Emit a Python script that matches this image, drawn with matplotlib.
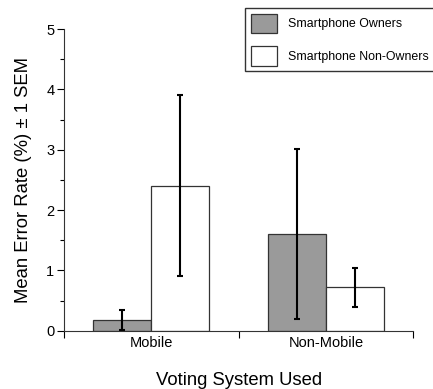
import numpy as np
import matplotlib.pyplot as plt
from matplotlib.ticker import MultipleLocator, FixedLocator, NullFormatter

plt.rcParams['font.family'] = ['Liberation Sans', 'DejaVu Sans']

# data
groups = ['Mobile', 'Non-Mobile']
series = ['Smartphone Owners', 'Smartphone Non-Owners']
owners = [0.18, 1.60]
owners_sem = [0.17, 1.41]
non_owners = [2.40, 0.72]
non_owners_sem = [1.50, 0.32]

fig = plt.figure(figsize=(4.33, 3.89), dpi=100)
ax = fig.add_axes([0.148, 0.150, 0.806, 0.775])

centers = np.arange(len(groups)) + 0.5
w = 1 / 3
err_kw = dict(ecolor='black', elinewidth=1.5, capsize=2.2, capthick=1.5)
ax.bar(centers - w / 2, owners, w, yerr=owners_sem, color='#9a9a9a',
       edgecolor='#333333', linewidth=0.9, error_kw=err_kw, label=series[0])
ax.bar(centers + w / 2, non_owners, w, yerr=non_owners_sem, color='white',
       edgecolor='#333333', linewidth=0.9, error_kw=err_kw, label=series[1])

ax.set_xlim(0, 2)
ax.set_ylim(0, 5)
ax.spines['top'].set_visible(False)
ax.spines['right'].set_visible(False)
for s in ['left', 'bottom']:
    ax.spines[s].set_linewidth(0.8)
    ax.spines[s].set_color('#333333')

ax.yaxis.set_major_locator(MultipleLocator(1))
ax.yaxis.set_minor_locator(MultipleLocator(0.5))
ax.tick_params(axis='y', which='major', length=5, width=0.8, labelsize=10.5, pad=2)
ax.tick_params(axis='y', which='minor', length=3, width=0.8)

ax.xaxis.set_major_locator(FixedLocator([0, 1, 2]))
ax.xaxis.set_major_formatter(NullFormatter())
ax.xaxis.set_minor_locator(FixedLocator(centers))
ax.set_xticklabels(groups, minor=True)
ax.tick_params(axis='x', which='major', length=5, width=0.8)
ax.tick_params(axis='x', which='minor', length=0, labelsize=10.5, pad=4)

ax.set_ylabel('Mean Error Rate (%) ± 1 SEM', fontsize=13.3, labelpad=10)
ax.set_xlabel('Voting System Used', fontsize=13.3, labelpad=16)

fig.legend(loc='upper left', bbox_to_anchor=(245 / 433, 1 - 8 / 389),
           fontsize=8.9, frameon=True, fancybox=False, edgecolor='black',
           handlelength=2.1, handleheight=2.1, handletextpad=0.9,
           labelspacing=1.0, borderpad=0.45, borderaxespad=0)

fig.savefig('out.png', dpi=100)
